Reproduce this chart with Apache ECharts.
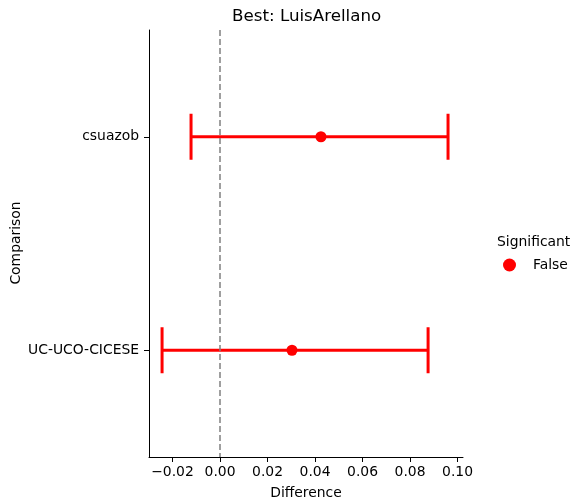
<!DOCTYPE html>
<html lang="en">
<head>
    <meta charset="UTF-8">
    <title>Best: LuisArellano</title>
    <script src="https://cdn.jsdelivr.net/npm/echarts@6/dist/echarts.min.js"></script>
    <style>
        html, body { margin: 0; padding: 0; background: #ffffff; }
        #main { width: 570px; height: 500px; }
    </style>
</head>
<body>
<div id="main"></div>
<script>
    // data
    var comparisons = ['csuazob', 'UC-UCO-CICESE'];
    var diffs = [0.0425, 0.0303];
    var lowers = [-0.0122, -0.0244];
    var uppers = [0.0960, 0.0876];
    var xTicks = [-0.02, 0.00, 0.02, 0.04, 0.06, 0.08, 0.10];

    var font = 'DejaVu Sans';
    var fs = 13.9;
    var red = '#ff0000';

    var myChart = echarts.init(document.getElementById('main'));

    var errData = comparisons.map(function (c, i) { return [lowers[i], uppers[i], i]; });
    var ptData = comparisons.map(function (c, i) { return [diffs[i], i]; });

    // error bar with caps
    function renderErr(params, api) {
        var lo = api.coord([api.value(0), api.value(2)]);
        var hi = api.coord([api.value(1), api.value(2)]);
        var half = 23;
        var st = { stroke: red, lineWidth: 3 };
        return {
            type: 'group',
            children: [
                { type: 'line', shape: { x1: lo[0], y1: lo[1], x2: hi[0], y2: hi[1] }, style: st },
                { type: 'line', shape: { x1: lo[0], y1: lo[1] - half, x2: lo[0], y2: lo[1] + half }, style: st },
                { type: 'line', shape: { x1: hi[0], y1: hi[1] - half, x2: hi[0], y2: hi[1] + half }, style: st }
            ]
        };
    }

    var option = {
        animation: false,
        backgroundColor: '#ffffff',
        textStyle: { fontFamily: font },
        title: {
            text: 'Best: LuisArellano',
            left: 232, top: 8, padding: 0,
            textStyle: { fontFamily: font, fontSize: 16.7, fontWeight: 'normal', color: '#000' }
        },
        legend: {
            data: [{ name: 'False', icon: 'circle' }],
            left: 498, top: 253,
            itemWidth: 13, itemHeight: 13, itemGap: 6,
            textStyle: { fontFamily: font, fontSize: fs, color: '#000', padding: [0, 0, 0, 12] }
        },
        graphic: [{
            type: 'text', left: 497, top: 235,
            style: { text: 'Significant', font: fs + 'px "DejaVu Sans"', fill: '#000' }
        }, {
            // y axis title
            type: 'text', x: 16, y: 243, rotation: Math.PI / 2,
            style: { text: 'Comparison', font: fs + 'px "DejaVu Sans"', fill: '#000', align: 'center', verticalAlign: 'middle' }
        }],
        grid: { left: 149, right: 107, top: 30, bottom: 43, outerBoundsMode: 'none', containLabel: false },
        xAxis: {
            type: 'value',
            min: -0.0299, max: 0.1023,
            name: 'Difference', nameLocation: 'middle', nameGap: 29,
            nameTextStyle: { fontFamily: font, fontSize: fs, color: '#000' },
            axisLine: { show: true, onZero: false, lineStyle: { color: '#000', width: 1 } },
            axisTick: { show: true, length: 5, customValues: xTicks, lineStyle: { color: '#000' } },
            axisLabel: {
                customValues: xTicks, margin: 8,
                fontFamily: font, fontSize: fs, color: '#000',
                formatter: function (v) { return v.toFixed(2).replace('-', '\u2212'); }
            },
            splitLine: { show: false }
        },
        yAxis: {
            type: 'category',
            data: comparisons,
            inverse: true,
            axisLine: { show: true, onZero: false, lineStyle: { color: '#000', width: 1 } },
            axisTick: { show: true, alignWithLabel: true, length: 5, lineStyle: { color: '#000' } },
            axisLabel: { fontFamily: font, fontSize: fs, color: '#000', margin: 10 },
            splitLine: { show: false }
        },
        series: [
            {
                name: 'zero',
                type: 'scatter',
                data: [],
                z: 1,
                markLine: {
                    silent: true,
                    symbol: 'none',
                    label: { show: false },
                    lineStyle: { color: '#808080', type: [6, 3], width: 1.5 },
                    emphasis: { disabled: true },
                    data: [{ xAxis: 0 }]
                }
            },
            {
                name: 'err',
                type: 'custom',
                renderItem: renderErr,
                encode: { x: [0, 1], y: 2 },
                data: errData,
                z: 2
            },
            {
                name: 'False',
                type: 'scatter',
                symbol: 'circle',
                symbolSize: 11,
                itemStyle: { color: red, opacity: 1 },
                data: ptData,
                z: 3
            }
        ]
    };

    myChart.setOption(option);
</script>
</body>
</html>
